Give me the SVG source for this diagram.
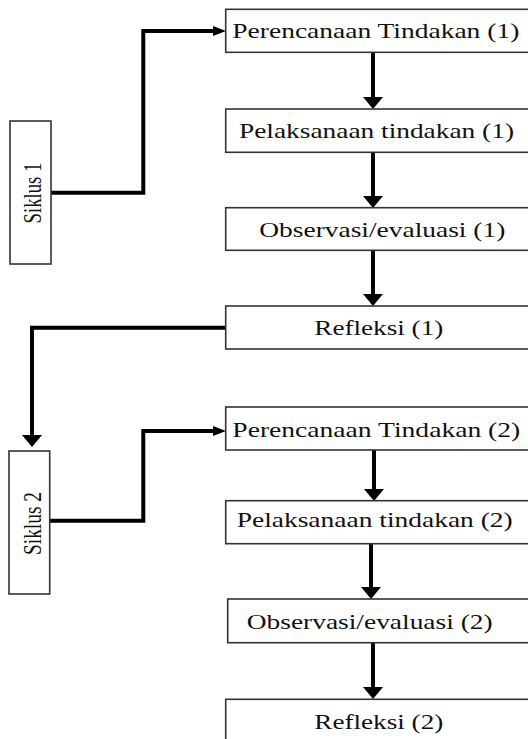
<svg xmlns="http://www.w3.org/2000/svg" width="528" height="739" viewBox="0 0 528 739">
<style>
.box{fill:#fff;stroke:#333;stroke-width:1.6}
.t{font-family:"Liberation Serif","Times New Roman",serif;font-size:21px;fill:#111}
.s{font-family:"Liberation Serif","Times New Roman",serif;font-size:25px;fill:#111}
.c{fill:none;stroke:#000;stroke-width:4;stroke-linejoin:miter}
</style>
<defs>
<marker id="ad" viewBox="0 0 12 20" refX="0" refY="10" markerWidth="12" markerHeight="20" markerUnits="userSpaceOnUse" orient="auto"><path d="M0,0 L12,10 L0,20 Z" fill="#000"/></marker>
<marker id="ar" viewBox="0 0 13 10" refX="0" refY="5" markerWidth="13" markerHeight="10" markerUnits="userSpaceOnUse" orient="auto"><path d="M0,0 L13,5 L0,10 Z" fill="#000"/></marker>
</defs>
<g id="connectors">
<path class="c" d="M51,192.7 H143.3 V31 H213" marker-end="url(#ar)"/>
<path class="c" d="M373,52 V97" marker-end="url(#ad)"/>
<path class="c" d="M373,152 V196" marker-end="url(#ad)"/>
<path class="c" d="M373,250 V294" marker-end="url(#ad)"/>
<path class="c" d="M226,327.7 H32 V435" marker-end="url(#ad)"/>
<path class="c" d="M49.7,520.7 H143.3 V431 H213" marker-end="url(#ar)"/>
<path class="c" d="M374,450 V489" marker-end="url(#ad)"/>
<path class="c" d="M371,543.7 V587" marker-end="url(#ad)"/>
<path class="c" d="M373,642.7 V687" marker-end="url(#ad)"/>
</g>
<g id="siklus1"><rect class="box" x="10" y="121" width="41" height="143"/><text class="s" transform="translate(41,193) rotate(-90)" text-anchor="middle" textLength="61" lengthAdjust="spacingAndGlyphs">Siklus 1</text></g>
<g id="siklus2"><rect class="box" x="9" y="451" width="40.7" height="143"/><text class="s" transform="translate(41,523.5) rotate(-90)" text-anchor="middle" textLength="63" lengthAdjust="spacingAndGlyphs">Siklus 2</text></g>
<g id="n1"><rect class="box" x="225.7" y="9.3" width="320" height="43"/><text class="t" x="232.3" y="38.3" textLength="287" lengthAdjust="spacingAndGlyphs">Perencanaan Tindakan (1)</text></g>
<g id="n2"><rect class="box" x="225.7" y="109" width="320" height="43.3"/><text class="t" x="239" y="138.3" textLength="275" lengthAdjust="spacingAndGlyphs">Pelaksanaan tindakan (1)</text></g>
<g id="n3"><rect class="box" x="225.7" y="207.7" width="320" height="42.6"/><text class="t" x="259.3" y="237.3" textLength="246" lengthAdjust="spacingAndGlyphs">Observasi/evaluasi (1)</text></g>
<g id="n4"><rect class="box" x="225.7" y="306" width="320" height="43"/><text class="t" x="314.3" y="335" textLength="129" lengthAdjust="spacingAndGlyphs">Refleksi (1)</text></g>
<g id="n5"><rect class="box" x="225.7" y="407" width="320" height="43"/><text class="t" x="232.3" y="436.7" textLength="288" lengthAdjust="spacingAndGlyphs">Perencanaan Tindakan (2)</text></g>
<g id="n6"><rect class="box" x="225.7" y="500.7" width="320" height="43"/><text class="t" x="236.7" y="526.7" textLength="276" lengthAdjust="spacingAndGlyphs">Pelaksanaan tindakan (2)</text></g>
<g id="n7"><rect class="box" x="227.7" y="599" width="320" height="43.7"/><text class="t" x="246.7" y="629.3" textLength="246" lengthAdjust="spacingAndGlyphs">Observasi/evaluasi (2)</text></g>
<g id="n8"><rect class="box" x="225.7" y="699.3" width="320" height="60"/><text class="t" x="314.3" y="729.3" textLength="129" lengthAdjust="spacingAndGlyphs">Refleksi (2)</text></g>
</svg>
